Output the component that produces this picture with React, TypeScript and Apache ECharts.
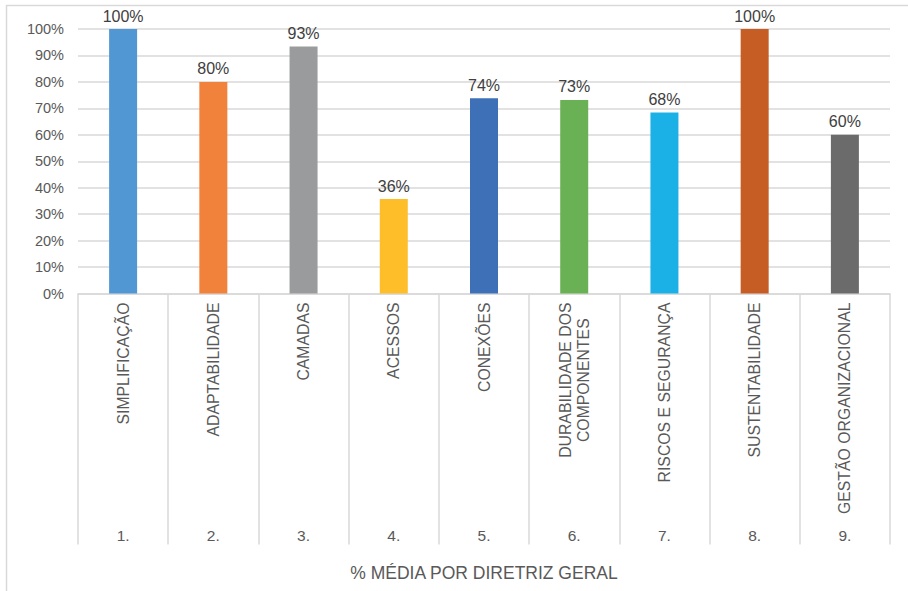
import React, { useEffect, useRef } from "react";
import * as echarts from "echarts";

const categories = [
  "SIMPLIFICAÇÃO",
  "ADAPTABILIDADE",
  "CAMADAS",
  "ACESSOS",
  "CONEXÕES",
  "DURABILIDADE DOS\nCOMPONENTES",
  "RISCOS E SEGURANÇA",
  "SUSTENTABILIDADE",
  "GESTÃO ORGANIZACIONAL",
];
const numbers = ["1.", "2.", "3.", "4.", "5.", "6.", "7.", "8.", "9."];
const values = [100, 80, 93.4, 35.7, 73.8, 73.2, 68.4, 100, 60];
const colors = [
  "#5097D3",
  "#F0823B",
  "#999B9C",
  "#FEBE2A",
  "#3D70B7",
  "#6AB155",
  "#1CB1E6",
  "#C55D25",
  "#6B6B6B",
];
const axisTitle = "% MÉDIA POR DIRETRIZ GERAL";

const FONT = "'Liberation Sans', Arial, sans-serif";

export default function App() {
  const ref = useRef<HTMLDivElement>(null);
  useEffect(() => {
    if (!ref.current) return;
    const chart = echarts.init(ref.current, undefined, { renderer: "svg" });
    chart.setOption({
      animation: false,
      backgroundColor: "#ffffff",
      textStyle: { fontFamily: FONT },
      graphic: [
        {
          type: "rect",
          shape: { x: 6.5, y: 5.5, width: 920, height: 620 },
          style: { fill: "none", stroke: "#D9D9D9", lineWidth: 1.5 },
          silent: true,
        },
      ],
      grid: { left: 78, right: 18, top: 29, bottom: 297.5, containLabel: false },
      xAxis: [
        {
          type: "category",
          data: categories,
          position: "bottom",
          axisLine: { show: true, lineStyle: { color: "#D9D9D9", width: 1.5 } },
          axisTick: {
            show: true,
            interval: 0,
            length: 251,
            lineStyle: { color: "#D9D9D9", width: 1.5 },
          },
          axisLabel: {
            interval: 0,
            rotate: 90,
            margin: 9,
            fontFamily: FONT,
            fontSize: 15.8,
            color: "#595959",
            formatter: (v: string) =>
              v
                .split("\n")
                .map((l) => `{c|${l}}`)
                .join("\n"),
            rich: {
              c: {
                align: "center",
                fontFamily: FONT,
                fontSize: 15.8,
                color: "#595959",
                lineHeight: 18,
              },
            },
          },
          splitLine: { show: false },
        },
        {
          type: "category",
          data: numbers,
          position: "bottom",
          offset: 230,
          axisLine: { show: false },
          axisTick: { show: false },
          axisLabel: {
            interval: 0,
            margin: 4,
            fontFamily: FONT,
            fontSize: 15.5,
            color: "#595959",
          },
          name: axisTitle,
          nameLocation: "middle",
          nameGap: 40,
          nameTextStyle: { fontFamily: FONT, fontSize: 17.5, color: "#595959" },
        },
      ],
      yAxis: {
        type: "value",
        min: 0,
        max: 100,
        interval: 10,
        axisLine: { show: false },
        axisTick: { show: false },
        axisLabel: {
          margin: 14,
          fontFamily: FONT,
          fontSize: 14.5,
          color: "#595959",
          formatter: (v: number) => `${Math.round(v)}%`,
        },
        splitLine: { show: true, lineStyle: { color: "#D9D9D9", width: 1.5 } },
      },
      series: [
        {
          type: "bar",
          xAxisIndex: 0,
          barWidth: 28,
          data: values.map((v, i) => ({ value: v, itemStyle: { color: colors[i] } })),
          label: {
            show: true,
            position: "top",
            distance: 5,
            fontFamily: FONT,
            fontSize: 16,
            color: "#404040",
            formatter: (p: any) => `${Math.round(p.value)}%`,
          },
        },
      ],
    });
    return () => chart.dispose();
  }, []);
  return (
    <div
      ref={ref}
      style={{ position: "fixed", left: 0, top: 0, width: 908, height: 591 }}
    />
  );
}
